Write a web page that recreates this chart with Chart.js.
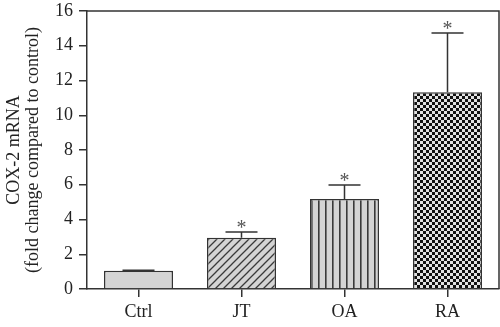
<!DOCTYPE html>
<html>
<head>
<meta charset="utf-8">
<script src="https://cdn.jsdelivr.net/npm/chart.js@4"></script>
<style>
  html, body { margin: 0; padding: 0; background: #fff; }
  #wrap { width: 500px; height: 327px; }
</style>
</head>
<body>
<div id="wrap"><canvas id="chart" width="500" height="327"></canvas></div>
<script>
// data
var groups = ['Ctrl', 'JT', 'OA', 'RA'];
var means = [1.05, 2.95, 5.18, 11.33];
var errUp = [1.08, 3.28, 5.98, 14.73];
var signif = ['', '*', '*', '*'];
var yTicks = [0, 2, 4, 6, 8, 10, 12, 14, 16];

var ink = '#333333';
var fillGray = '#d4d4d4';

function makeTile(w, h, draw) {
    var c = document.createElement('canvas');
    c.width = w; c.height = h;
    var g = c.getContext('2d');
    draw(g);
    return document.getElementById('chart').getContext('2d').createPattern(c, 'repeat');
}

var hatchDiag = makeTile(8, 8, function (g) {
    g.fillStyle = fillGray; g.fillRect(0, 0, 8, 8);
    g.strokeStyle = '#3a3a3a'; g.lineWidth = 1.3;
    g.beginPath();
    g.moveTo(-1, 9); g.lineTo(9, -1);
    g.moveTo(-1, 1); g.lineTo(1, -1);
    g.moveTo(7, 9); g.lineTo(9, 7);
    g.stroke();
});
var hatchVert = makeTile(7, 7, function (g) {
    g.fillStyle = fillGray; g.fillRect(0, 0, 7, 7);
    g.fillStyle = '#3a3a3a'; g.fillRect(3, 0, 1.6, 7);
});
var checker = makeTile(6, 6, function (g) {
    g.fillStyle = '#e2e2e2'; g.fillRect(0, 0, 6, 6);
    g.fillStyle = '#111111';
    g.fillRect(0, 0, 3, 3); g.fillRect(3, 3, 3, 3);
});

var errorBars = {
    id: 'errorBars',
    afterDatasetsDraw: function (chart) {
        var ctx = chart.ctx, xs = chart.scales.x, ys = chart.scales.y;
        ctx.save();
        ctx.strokeStyle = ink;
        ctx.lineWidth = 1.5;
        ctx.fillStyle = '#555';
        ctx.font = '20px "Liberation Serif", serif';
        ctx.textAlign = 'center';
        ctx.textBaseline = 'alphabetic';
        for (var i = 0; i < groups.length; i++) {
            var x = xs.getPixelForValue(i);
            var y0 = ys.getPixelForValue(means[i]);
            var y1 = ys.getPixelForValue(errUp[i]);
            ctx.beginPath();
            ctx.moveTo(x, y0); ctx.lineTo(x, y1);
            ctx.moveTo(x - 16, y1); ctx.lineTo(x + 16, y1);
            ctx.stroke();
            if (signif[i]) ctx.fillText(signif[i], x, y1 + 2);
        }
        // frame on top and right
        var a = chart.chartArea;
        ctx.beginPath();
        ctx.moveTo(a.left, a.top); ctx.lineTo(a.right, a.top); ctx.lineTo(a.right, a.bottom);
        ctx.stroke();
        ctx.restore();
    }
};

var serif = { family: '"Liberation Serif", "DejaVu Serif", serif', size: 18 };

new Chart(document.getElementById('chart'), {
    type: 'bar',
    data: {
        labels: groups,
        datasets: [{
            data: means,
            backgroundColor: [fillGray, hatchDiag, hatchVert, checker],
            borderColor: ink,
            borderWidth: 1.5,
            borderSkipped: 'bottom',
            categoryPercentage: 1,
            barPercentage: 0.67
        }]
    },
    options: {
        responsive: false,
        animation: false,
        layout: { padding: { top: 11, right: 1, left: 0, bottom: 0 } },
        plugins: { legend: { display: false }, tooltip: { enabled: false } },
        scales: {
            x: {
                grid: { display: true, drawOnChartArea: false, offset: false, tickLength: 8, color: ink, lineWidth: 1.5 },
                border: { color: ink, width: 1.5 },
                ticks: { color: '#222', font: serif, padding: 4 },
                afterFit: function (s) { s.height = 38; s.paddingLeft = 0; s.paddingRight = 0; }
            },
            y: {
                min: 0, max: 16,
                afterBuildTicks: function (s) { s.ticks = yTicks.map(function (v) { return { value: v }; }); },
                grid: { display: true, drawOnChartArea: false, tickLength: 8, color: ink, lineWidth: 1.5 },
                border: { color: ink, width: 1.5 },
                ticks: { color: '#222', font: serif, padding: 6 },
                title: {
                    display: true,
                    text: ['COX-2 mRNA', '(fold change compared to control)'],
                    color: '#222',
                    font: { family: serif.family, size: 18, lineHeight: 1.1 },
                    padding: { top: 4, bottom: 0 }
                },
                afterFit: function (s) { s.width = 87; s.paddingTop = 0; s.paddingBottom = 0; }
            }
        }
    },
    plugins: [errorBars]
});
</script>
</body>
</html>
